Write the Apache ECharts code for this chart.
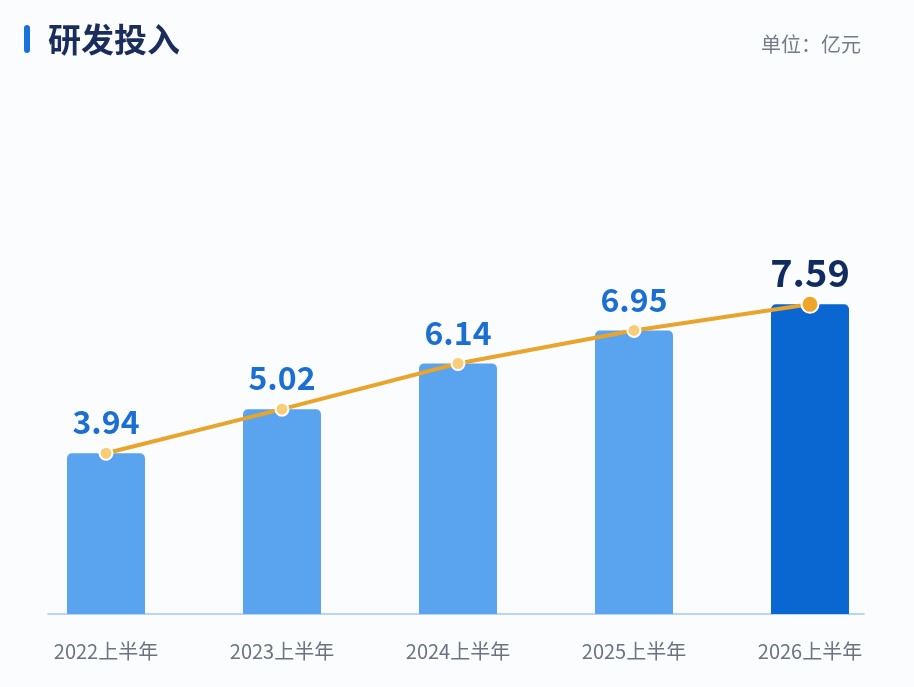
<!DOCTYPE html>
<html>
<head>
<meta charset="utf-8">
<script src="https://cdn.jsdelivr.net/npm/echarts@6/dist/echarts.min.js"></script>
<style>
  html, body { margin: 0; padding: 0; background: #fbfcfe; }
  #main { width: 914px; height: 687px; }
</style>
</head>
<body>
<div id="main"></div>
<script>
// 数据
var categories = ['2022上半年', '2023上半年', '2024上半年', '2025上半年', '2026上半年'];
var rdValues = [3.94, 5.02, 6.14, 6.95, 7.59];

var FONT = '"Noto Sans CJK SC", "Noto Sans", sans-serif';
var last = rdValues.length - 1;

var myChart = echarts.init(document.getElementById('main'));

var barData = rdValues.map(function (v, i) {
    if (i === last) {
        return {
            value: v,
            itemStyle: { color: '#0a66d1' },
            label: { color: '#0f2b5f', fontSize: 38, distance: 13 }
        };
    }
    return v;
});

var lineData = rdValues.map(function (v, i) {
    if (i === last) {
        return {
            value: v,
            symbolSize: 17,
            itemStyle: { color: '#eea52a', borderColor: '#ffffff', borderWidth: 2 }
        };
    }
    return v;
});

var option = {
    backgroundColor: '#fbfcfe',
    animation: false,
    title: [
        {
            text: '研发投入',
            left: 43,
            top: 18,
            textStyle: { fontFamily: FONT, fontSize: 33, fontWeight: 'bold', color: '#1b2d5c' }
        },
        {
            text: '单位：亿元',
            right: 48,
            top: 29,
            textStyle: { fontFamily: FONT, fontSize: 20, fontWeight: 'normal', color: '#737a88' }
        }
    ],
    graphic: [
        {
            type: 'rect',
            left: 24,
            top: 25,
            shape: { width: 6, height: 28, r: 3 },
            style: { fill: '#1a72d8' }
        }
    ],
    grid: [
        { left: 18, right: 16, top: 206, bottom: 73 },
        { left: 48, right: 50, top: 206, bottom: 73 }
    ],
    xAxis: [
        {
            type: 'category',
            gridIndex: 0,
            data: categories,
            axisLine: { show: false },
            axisTick: { show: false },
            axisLabel: {
                margin: 27,
                fontFamily: FONT,
                fontSize: 20,
                color: '#6b7280'
            }
        },
        {
            type: 'category',
            gridIndex: 1,
            data: categories,
            axisLine: { show: true, lineStyle: { color: '#a8c6ec', width: 1.5 } },
            axisTick: { show: false },
            axisLabel: { show: false }
        }
    ],
    yAxis: [
        { type: 'value', gridIndex: 0, min: 0, max: 10, show: false },
        { type: 'value', gridIndex: 1, min: 0, max: 10, show: false }
    ],
    series: [
        {
            name: '研发投入',
            type: 'bar',
            barWidth: 78,
            data: barData,
            itemStyle: { color: '#5aa3ee', borderRadius: [5, 5, 0, 0] },
            label: {
                show: true,
                position: 'top',
                distance: 15,
                fontFamily: FONT,
                fontSize: 32,
                fontWeight: 'bold',
                color: '#1b6fd3'
            },
            z: 2
        },
        {
            name: '趋势',
            type: 'line',
            data: lineData,
            symbol: 'circle',
            symbolSize: 13,
            lineStyle: { color: '#e9a52b', width: 4 },
            itemStyle: { color: '#f7cd78', borderColor: '#ffffff', borderWidth: 2 },
            z: 3
        }
    ]
};

myChart.setOption(option);
</script>
</body>
</html>
